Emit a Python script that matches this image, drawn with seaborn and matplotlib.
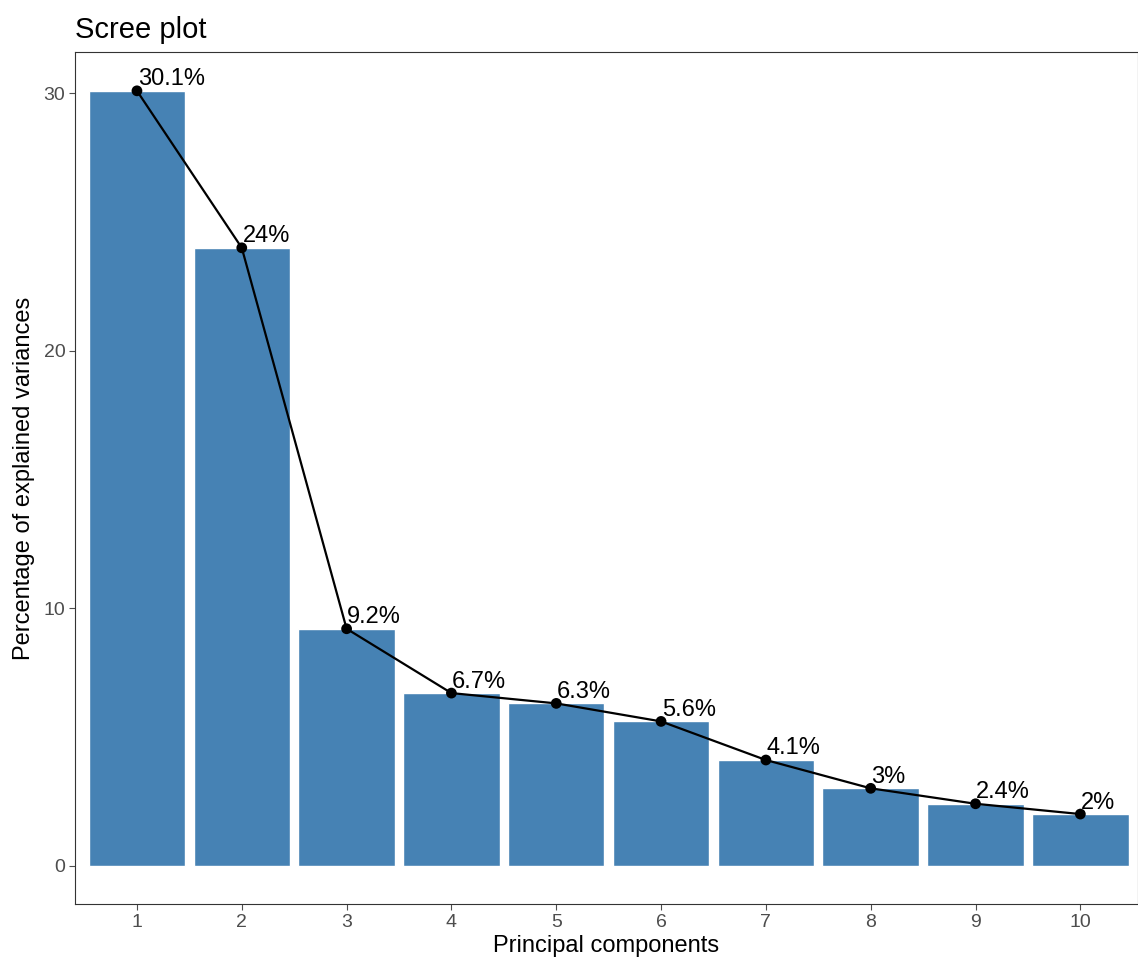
import pandas as pd
import seaborn as sns
import matplotlib.pyplot as plt

# Dados do scree plot
componentes = [1, 2, 3, 4, 5, 6, 7, 8, 9, 10]
variancia = [30.1, 24.0, 9.2, 6.7, 6.3, 5.6, 4.1, 3.0, 2.4, 2.0]
rotulos = ["30.1%", "24%", "9.2%", "6.7%", "6.3%", "5.6%", "4.1%", "3%", "2.4%", "2%"]

df = pd.DataFrame({"comp": componentes, "var": variancia})

sns.set_style("white")
plt.rcParams["font.family"] = ["Liberation Sans", "DejaVu Sans"]

fig = plt.figure(figsize=(11.38, 9.67), dpi=100)
ax = fig.add_axes([0.066, 0.065, 0.934, 0.881])

sns.barplot(data=df, x="comp", y="var", native_scale=True, width=0.92,
            color="#4682B4", saturation=1, ax=ax)
sns.lineplot(data=df, x="comp", y="var", color="black", linewidth=1.6, ax=ax)
sns.scatterplot(data=df, x="comp", y="var", color="black", s=60, zorder=5,
                edgecolor="none", ax=ax)

for x, y, t in zip(componentes, variancia, rotulos):
    ax.annotate(t, (x, y), xytext=(0.5, 4), textcoords="offset points",
                ha="left", va="baseline", fontsize=17, color="black")

ax.set_xlim(0.41, 10.55)
ax.set_ylim(-1.5, 31.6)
ax.set_xticks(componentes)
ax.set_xticklabels([str(c) for c in componentes])
ax.set_yticks([0, 10, 20, 30])
ax.tick_params(axis="both", colors="#4d4d4d", labelsize=14, length=4, width=0.8,
               direction="out", bottom=True, left=True, pad=3)
for s in ax.spines.values():
    s.set_color("#333333")
    s.set_linewidth(0.8)

ax.set_xlabel("Principal components", fontsize=17, color="black", labelpad=3)
ax.set_ylabel("Percentage of explained variances", fontsize=17, color="black", labelpad=6)
ax.set_title("Scree plot", fontsize=21, loc="left", pad=10, color="black")

fig.savefig("out.png", dpi=100)
